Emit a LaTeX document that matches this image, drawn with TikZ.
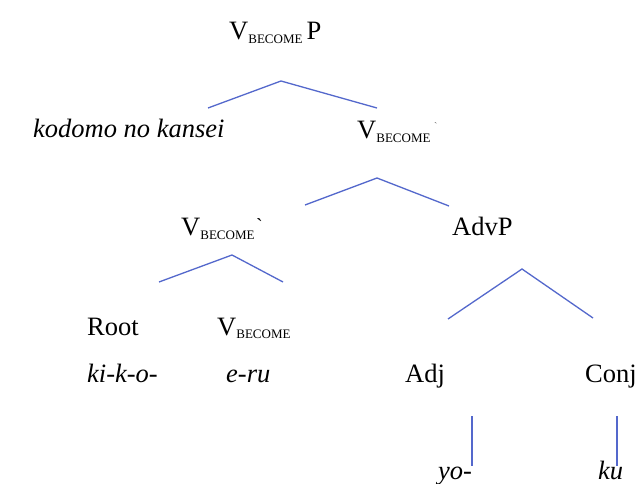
\documentclass[tikz,border=0pt]{standalone}
\usepackage{fontspec}
\setmainfont{Liberation Serif}
\newfontfamily\tms{Liberation Serif}
\definecolor{treeblue}{RGB}{84,104,204}
\newcommand{\Vsub}{V\raisebox{-3.5pt}{\fontsize{13}{13}\selectfont BECOME}}
\begin{document}
\begin{tikzpicture}[x=1pt,y=-1pt,
  lbl/.style={inner sep=0pt,anchor=base west,font=\tms\fontsize{26.5}{30}\selectfont},
  branch/.style={draw=treeblue,line width=1.3pt,line join=miter},
  tick/.style={inner sep=0pt,anchor=base west,font=\tms\fontsize{20}{24}\selectfont}]
\useasboundingbox[fill=white] (0,0) rectangle (643,484);
% labels
\node[lbl] (top) at (229,40) {\Vsub\hspace{4pt}P};
\node[lbl] (kodomo) at (33,138) {\itshape kodomo no kansei};
\node[lbl] (vb1) at (357,139) {\Vsub};
\node[tick,text=black!60] (tick1) at (434,130) {\fontsize{10}{10}\selectfont`};
\node[lbl] (vb2) at (181,236) {\Vsub};
\node[tick] (tick2) at (256,233) {`};
\node[lbl] (advp) at (452,236) {AdvP};
\node[lbl] (root) at (87,335) {Root};
\node[lbl] (vb3) at (217,335) {\Vsub};
\node[lbl] (kiko) at (87,382) {\itshape ki-k-o-};
\node[lbl] (eru) at (226,382) {\itshape e-ru};
\node[lbl] (adj) at (405,382) {Adj};
\node[lbl] (conj) at (585,382) {Conj};
\node[lbl] (yo) at (438,479) {\itshape yo-};
\node[lbl] (ku) at (598,479) {\itshape ku};
% branch points
\coordinate (a1) at (281,81);  \coordinate (l1) at (208,108); \coordinate (r1) at (377,108);
\coordinate (a2) at (377,178); \coordinate (l2) at (305,205); \coordinate (r2) at (449,206);
\coordinate (a3) at (232,255); \coordinate (l3) at (159,282); \coordinate (r3) at (283,282);
\coordinate (a4) at (522,269); \coordinate (l4) at (448,319); \coordinate (r4) at (593,318);
\coordinate (t5) at (472,416); \coordinate (b5) at (472,466);
\coordinate (t6) at (617,416); \coordinate (b6) at (617,466);
\draw[branch] (l1) -- (a1) -- (r1);
\draw[branch] (l2) -- (a2) -- (r2);
\draw[branch] (l3) -- (a3) -- (r3);
\draw[branch] (l4) -- (a4) -- (r4);
\draw[branch] (t5) -- (b5);
\draw[branch] (t6) -- (b6);
\end{tikzpicture}
\end{document}
